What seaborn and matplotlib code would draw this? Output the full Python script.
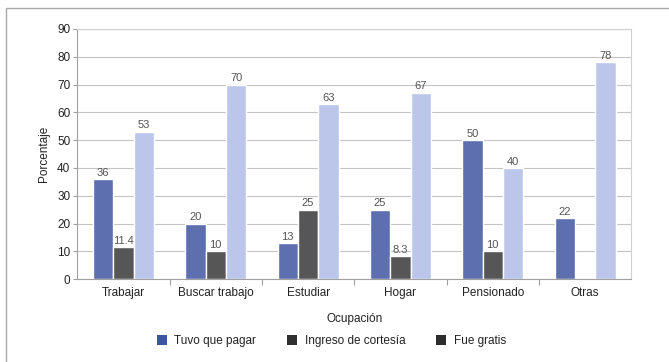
import matplotlib
matplotlib.use("Agg")
import matplotlib.pyplot as plt
from matplotlib.patches import Patch, Rectangle
import seaborn as sns
import pandas as pd

# Data: percentage by occupation and type of access
ocupaciones = ["Trabajar", "Buscar trabajo", "Estudiar", "Hogar", "Pensionado", "Otras"]
tuvo_que_pagar = [36, 20, 13, 25, 50, 22]
ingreso_cortesia = [11.4, 10, 25, 8.3, 10, 0]
fue_gratis = [53, 70, 63, 67, 40, 78]
series = ["Tuvo que pagar", "Ingreso de cortesía", "Fue gratis"]
y_ticks = [0, 10, 20, 30, 40, 50, 60, 70, 80, 90]

bar_colors = ["#5d6fae", "#565656", "#bcc6ea"]
legend_colors = ["#3b54a6", "#2f2f2f", "#2c2c2c"]

df = pd.DataFrame({
    "Ocupación": ocupaciones * 3,
    "Serie": sum([[s] * len(ocupaciones) for s in series], []),
    "Porcentaje": tuvo_que_pagar + ingreso_cortesia + fue_gratis,
})

sns.set_theme(style="white")
plt.rcParams["font.family"] = ["Liberation Sans", "DejaVu Sans"]

fig = plt.figure(figsize=(6.69, 3.62), dpi=100)
ax = fig.add_axes([0.1155, 0.229, 0.828, 0.691])

sns.barplot(data=df, x="Ocupación", y="Porcentaje", hue="Serie",
            hue_order=series, order=ocupaciones, palette=bar_colors,
            width=0.66, saturation=1, ax=ax, legend=False, errorbar=None)

for cont, vals in zip(ax.containers, [tuvo_que_pagar, ingreso_cortesia, fue_gratis]):
    labels = ["" if v == 0 else f"{v:g}" for v in vals]
    ax.bar_label(cont, labels=labels, padding=1, fontsize=8, color="#555555")

ax.set_ylim(0, 90)
ax.set_xlim(-0.5, len(ocupaciones) - 0.5)
ax.set_yticks(y_ticks)
ax.yaxis.grid(True, color="#c4c4c4", linewidth=0.8)
ax.set_axisbelow(True)
for s in ax.spines.values():
    s.set_color("#d0d0d0")
    s.set_linewidth(0.8)
ax.spines["left"].set_color("#a0a0a0")
ax.spines["bottom"].set_color("#a0a0a0")

# category separators on the x axis, small outward ticks on y
ax.set_xticks([i + 0.5 for i in range(len(ocupaciones) - 1)], minor=True)
ax.tick_params(axis="x", which="minor", direction="out", length=4, color="#a0a0a0", width=0.8, bottom=True)
ax.tick_params(axis="x", which="major", length=0, labelsize=8.5, labelcolor="#222222", pad=6)
ax.tick_params(axis="y", direction="out", length=3, color="#a0a0a0", width=0.8, left=True,
               labelsize=8.5, labelcolor="#222222", pad=2)

ax.set_xlabel("Ocupación", fontsize=8.5, color="#222222", labelpad=10)
ax.set_ylabel("Porcentaje", fontsize=8.5, color="#222222", labelpad=5)

handles = [Patch(facecolor=c, edgecolor="none") for c in legend_colors]
fig.legend(handles, series, loc="center", bbox_to_anchor=(0.495, 0.058), ncol=3,
           frameon=False, fontsize=8.5, handlelength=0.9, handleheight=0.9,
           handletextpad=0.6, columnspacing=2.6, labelcolor="#222222")

# outer frame of the figure panel
fig.patches.append(Rectangle((6 / 669, -0.1), 1.2, 1 - 8 / 362 + 0.1, transform=fig.transFigure,
                             fill=False, edgecolor="#a8a8a8", linewidth=1.0))

fig.savefig("out.png", dpi=100)
